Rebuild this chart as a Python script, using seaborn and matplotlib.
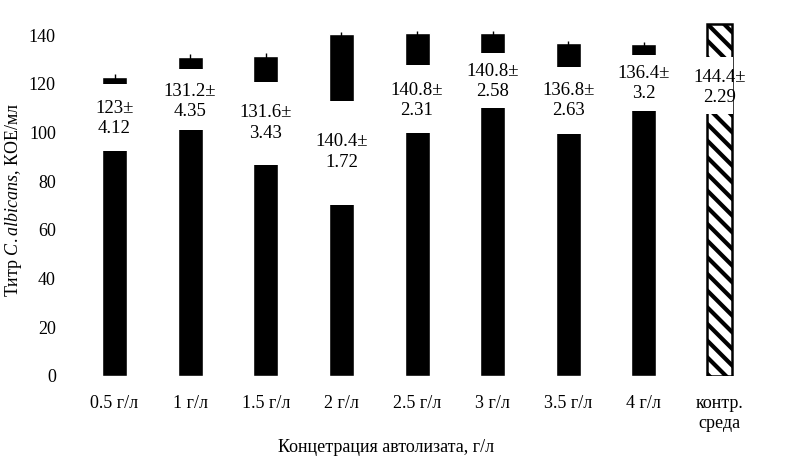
import matplotlib
matplotlib.use("Agg")
import matplotlib.pyplot as plt
import seaborn as sns
import pandas as pd

categories = ["0.5 г/л", "1 г/л", "1.5 г/л", "2 г/л", "2.5 г/л", "3 г/л", "3.5 г/л", "4 г/л", "контр.\nсреда"]
values = [123, 131.2, 131.6, 140.4, 140.8, 140.8, 136.8, 136.4, 144.4]
sd_text = ["4.12", "4.35", "3.43", "1.72", "2.31", "2.58", "2.63", "3.2", "2.29"]
val_text = ["123", "131.2", "131.6", "140.4", "140.8", "140.8", "136.8", "136.4", "144.4"]
err_drawn = [1.0, 1.0, 1.0, 1.0, 1.0, 1.0, 1.0, 1.0, 0.0]

# label placement (data units): text centre and white backing gap
label_y = [105.7, 112.9, 103.9, 92.0, 113.3, 121.1, 113.3, 120.1, 118.6]
gap_lo = [92.4, 101.0, 86.6, 70.2, 99.8, 110.0, 99.3, 108.8, 107.6]
gap_hi = [119.9, 126.0, 120.7, 112.9, 127.7, 132.6, 126.8, 131.8, 131.0]

sns.set_theme(style="white")
plt.rcParams["font.family"] = ["Liberation Serif", "DejaVu Serif"]
plt.rcParams["mathtext.fontset"] = "custom"
plt.rcParams["mathtext.rm"] = "Liberation Serif"
plt.rcParams["mathtext.it"] = "Liberation Serif:italic"
plt.rcParams["hatch.linewidth"] = 3.0

df = pd.DataFrame({"cat": categories, "val": values})

fig = plt.figure(figsize=(8.06, 4.67), dpi=100)
ax = fig.add_axes([0.0952, 0.1949, 0.8444, 0.7558])

sns.barplot(data=df, x="cat", y="val", color="black", saturation=1,
            width=0.33, errorbar=None, ax=ax, zorder=2)

last = ax.patches[-1]
last.set_facecolor("white")
last.set_edgecolor("black")
last.set_linewidth(1.8)
last.set_hatch("\\\\")

xs = list(range(len(categories)))
ax.errorbar(xs, values, yerr=err_drawn, fmt="none", ecolor="black",
            elinewidth=1, capsize=0, zorder=3)

heights = [h - l for h, l in zip(gap_hi, gap_lo)]
ax.bar(xs, heights, bottom=gap_lo, width=0.36, color="white",
       linewidth=0, zorder=4)

for x, y, v, s in zip(xs, label_y, val_text, sd_text):
    ax.text(x, y, f"{v}±\n{s}", ha="center", va="center", fontsize=13.5,
            linespacing=1.25, zorder=5, color="black")

ax.set_ylim(0, 145)
ax.set_xlim(-0.5, len(categories) - 0.5)
ax.set_yticks([0, 20, 40, 60, 80, 100, 120, 140])
ax.tick_params(axis="both", length=0, labelsize=13, colors="black")
ax.tick_params(axis="y", pad=15)
ax.tick_params(axis="x", pad=14)
for sp in ax.spines.values():
    sp.set_visible(False)

ax.set_xlabel("Концетрация автолизата, г/л", fontsize=13, color="black")
ax.xaxis.set_label_coords(0.454, -0.178)
ax.set_ylabel(r"Титр $\it{C.albicans}$, КОЕ/мл", fontsize=13, color="black")
ax.yaxis.set_label_coords(-0.078, 0.5)

fig.savefig("out.png", dpi=100)
